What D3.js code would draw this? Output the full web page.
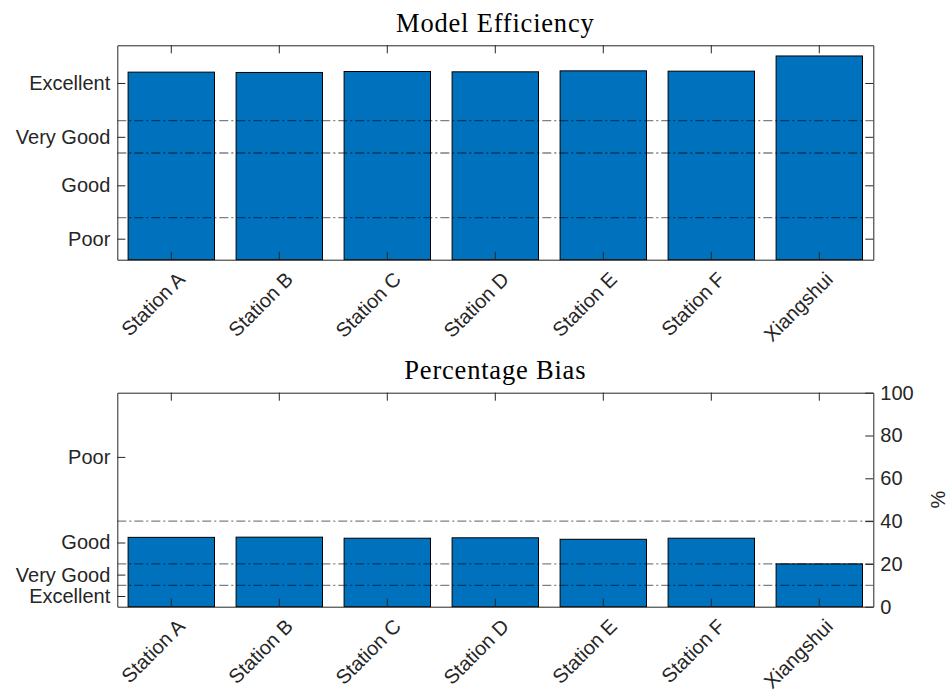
<!DOCTYPE html>
<html>
<head>
<meta charset="utf-8">
<script src="https://cdn.jsdelivr.net/npm/d3@7/dist/d3.min.js"></script>
<style>
  html, body { margin: 0; padding: 0; background: #fff; }
  svg { display: block; }
  .tick text, .lbl { font-family: "Liberation Sans", Arial, Helvetica, sans-serif; font-size: 20px; fill: #262626; }
  .title { font-family: "Liberation Serif", "Times New Roman", serif; font-size: 26.5px; fill: #000; letter-spacing: 0.8px; }
</style>
</head>
<body>
<svg id="chart" width="949" height="690"></svg>
<script>
// Stations
const categories = ["Station A", "Station B", "Station C", "Station D", "Station E", "Station F", "Xiangshui"];

// Model efficiency per station
const efficiency = [0.950, 0.949, 0.952, 0.951, 0.954, 0.953, 1.000];
const efficiencyDomain = [0.37, 1.033];
const efficiencyThresholds = [0.8, 0.7, 0.5];
const efficiencyRatingTicks = [0.9165, 0.75, 0.6, 0.435];
const efficiencyRatingLabels = ["Excellent", "Very Good", "Good", "Poor"];

// Percentage bias per station (%)
const bias = [32.4, 32.5, 32.0, 32.2, 31.5, 32.0, 20.0];
const biasDomain = [0, 100];
const biasThresholds = [40, 20, 10];
const biasRatingTicks = [70, 30, 15, 5];
const biasRatingLabels = ["Poor", "Good", "Very Good", "Excellent"];
const biasTicks = [0, 20, 40, 60, 80, 100];

const svg = d3.select("#chart");
const axisColor = "#262626";
const barColor = "#0072BD";
const left = 117.3, right = 873.3;
const tickLen = 8;

const x = d3.scaleBand().domain(categories).range([left, right])
  .paddingInner(0.2).paddingOuter(0.1);

function styleAxis(g) {
  g.selectAll("path.domain").attr("stroke", axisColor).attr("stroke-width", 1);
  g.selectAll(".tick line").attr("stroke", axisColor).attr("stroke-width", 1);
  g.selectAll(".tick text").attr("fill", axisColor).style("font-size", "20px")
    .style("font-family", '"Liberation Sans", Arial, sans-serif');
}

function panel(opts) {
  const { top, bottom, values, domain, thresholds, ratingTicks, ratingLabels, title, mirrorRight, rightTicks, rightLabel } = opts;
  const y = d3.scaleLinear().domain(domain).range([bottom, top]);
  const g = svg.append("g");

  // bars
  g.selectAll("rect.bar").data(categories).join("rect")
    .attr("class", "bar")
    .attr("x", d => x(d))
    .attr("width", x.bandwidth())
    .attr("y", (d, i) => y(values[i]))
    .attr("height", (d, i) => y(domain[0]) - y(values[i]))
    .attr("fill", barColor)
    .attr("stroke", "#000")
    .attr("stroke-width", 1);

  // rating thresholds
  g.selectAll("line.thr").data(thresholds).join("line")
    .attr("class", "thr")
    .attr("x1", left).attr("x2", right)
    .attr("y1", d => y(d)).attr("y2", d => y(d))
    .attr("stroke", "#000").attr("stroke-opacity", 0.5)
    .attr("stroke-width", 1.3)
    .attr("stroke-dasharray", "9,3,2,3");

  // left axis with rating labels
  const ratingMap = new Map(ratingTicks.map((t, i) => [t, ratingLabels[i]]));
  g.append("g").attr("transform", `translate(${left},0)`)
    .call(d3.axisLeft(y).tickValues(ratingTicks).tickFormat(d => ratingMap.get(d))
      .tickSizeInner(-tickLen).tickSizeOuter(0).tickPadding(7))
    .call(styleAxis);

  // right axis
  if (rightTicks) {
    g.append("g").attr("transform", `translate(${right},0)`)
      .call(d3.axisRight(y).tickValues(rightTicks)
        .tickSizeInner(-tickLen).tickSizeOuter(0).tickPadding(7))
      .call(styleAxis);
    g.append("text").attr("class", "lbl")
      .attr("transform", `translate(938,${(top + bottom) / 2}) rotate(-90)`)
      .attr("text-anchor", "middle").attr("dominant-baseline", "central")
      .text(rightLabel);
  } else if (mirrorRight) {
    g.append("g").attr("transform", `translate(${right},0)`)
      .call(d3.axisRight(y).tickValues(ratingTicks).tickFormat("")
        .tickSizeInner(-tickLen).tickSizeOuter(0))
      .call(styleAxis);
  }

  // top and bottom axes
  g.append("g").attr("transform", `translate(0,${top})`)
    .call(d3.axisTop(x).tickFormat("").tickSizeInner(-tickLen).tickSizeOuter(0))
    .call(styleAxis);
  const xb = g.append("g").attr("transform", `translate(0,${bottom})`)
    .call(d3.axisBottom(x).tickSizeInner(-tickLen).tickSizeOuter(0))
    .call(styleAxis);
  xb.selectAll(".tick text")
    .attr("y", 0).attr("dy", null)
    .attr("text-anchor", "end")
    .attr("dominant-baseline", "central")
    .attr("transform", "translate(10,16) rotate(-45)");

  // title
  g.append("text").attr("class", "title")
    .attr("x", (left + right) / 2).attr("y", top - 13.6)
    .attr("text-anchor", "middle")
    .text(title);
}

panel({
  top: 45.3, bottom: 259.7,
  values: efficiency, domain: efficiencyDomain,
  thresholds: efficiencyThresholds,
  ratingTicks: efficiencyRatingTicks, ratingLabels: efficiencyRatingLabels,
  title: "Model Efficiency", mirrorRight: true
});

panel({
  top: 392.7, bottom: 606.7,
  values: bias, domain: biasDomain,
  thresholds: biasThresholds,
  ratingTicks: biasRatingTicks, ratingLabels: biasRatingLabels,
  title: "Percentage Bias", rightTicks: biasTicks, rightLabel: "%"
});
</script>
</body>
</html>
